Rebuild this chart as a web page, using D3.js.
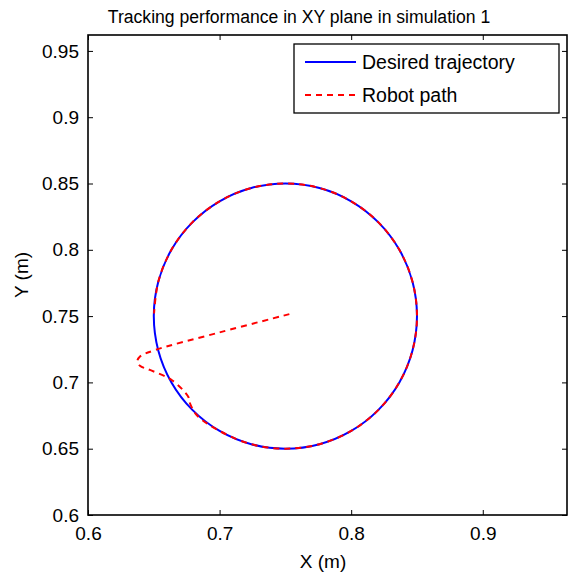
<!DOCTYPE html>
<html>
<head>
<meta charset="utf-8">
<script src="https://cdn.jsdelivr.net/npm/d3@7"></script>
<style>
  body { margin: 0; background: #fff; }
  text { font-family: "Liberation Sans", Arial, sans-serif; fill: #000; }
</style>
</head>
<body>
<svg id="chart" width="570" height="577"></svg>
<script>
// desired trajectory: circle, read every 15 deg
const desiredX = [0.85, 0.8466, 0.8366, 0.8207, 0.80, 0.7759, 0.75, 0.7241, 0.70, 0.6793, 0.6634, 0.6534,
                  0.65, 0.6534, 0.6634, 0.6793, 0.70, 0.7241, 0.75, 0.7759, 0.80, 0.8207, 0.8366, 0.8466];
const desiredY = [0.75, 0.7759, 0.80, 0.8207, 0.8366, 0.8466, 0.85, 0.8466, 0.8366, 0.8207, 0.80, 0.7759,
                  0.75, 0.7241, 0.70, 0.6793, 0.6634, 0.6534, 0.65, 0.6534, 0.6634, 0.6793, 0.70, 0.7241];

// robot path: transient from centre, then follows the circle
const robotX = [0.753, 0.70, 0.651, 0.6395, 0.6375, 0.6395, 0.647, 0.6636, 0.6762, 0.677, 0.6826,
                0.70, 0.7241, 0.75, 0.7759, 0.80, 0.8207, 0.8366, 0.8466, 0.85, 0.8466, 0.8366, 0.8207,
                0.80, 0.7759, 0.75, 0.7241, 0.70, 0.6793, 0.6634, 0.6534, 0.6502];
const robotY = [0.7515, 0.7377, 0.7244, 0.7195, 0.716, 0.7125, 0.7094, 0.7018, 0.6892, 0.6855, 0.6754,
                0.6634, 0.6534, 0.65, 0.6534, 0.6634, 0.6793, 0.70, 0.7241, 0.75, 0.7759, 0.80, 0.8207,
                0.8366, 0.8466, 0.85, 0.8466, 0.8366, 0.8207, 0.80, 0.7759, 0.752];

const xTicks = [0.6, 0.7, 0.8, 0.9];
const yTicks = [0.6, 0.65, 0.7, 0.75, 0.8, 0.85, 0.9, 0.95];
const seriesNames = ["Desired trajectory", "Robot path"];

const svg = d3.select('#chart');
const plotL = 88, plotR = 567, plotT = 35, plotB = 515;

const x = d3.scaleLinear().domain([0.6, 0.964]).range([plotL, plotR]);
const y = d3.scaleLinear().domain([0.6, 0.962]).range([plotB, plotT]);

svg.append('text')
    .attr('x', 299)
    .attr('y', 23)
    .attr('text-anchor', 'middle')
    .style('font-size', '17.6px')
    .text('Tracking performance in XY plane in simulation 1');

// axes, MATLAB style: ticks inward on all sides
const tickLen = 5;
const xAxis = d3.axisBottom(x).tickValues(xTicks).tickSizeInner(-tickLen).tickSizeOuter(0).tickPadding(12)
    .tickFormat(d3.format('.1f'));
const yAxis = d3.axisLeft(y).tickValues(yTicks).tickSizeInner(-tickLen).tickSizeOuter(0).tickPadding(9)
    .tickFormat(d => d3.format('.2~f')(d));

svg.append('g').attr('transform', `translate(0,${plotB})`).call(xAxis);
svg.append('g').attr('transform', `translate(${plotL},0)`).call(yAxis);
svg.append('g').attr('transform', `translate(0,${plotT})`)
    .call(d3.axisTop(x).tickValues(xTicks).tickSizeInner(-tickLen).tickSizeOuter(0).tickFormat(''));
svg.append('g').attr('transform', `translate(${plotR},0)`)
    .call(d3.axisRight(y).tickValues(yTicks).tickSizeInner(-tickLen).tickSizeOuter(0).tickFormat(''));

svg.selectAll('.domain').remove();
svg.selectAll('.tick line').attr('stroke', '#000').attr('stroke-width', 1);
svg.selectAll('.tick text').style('font-size', '19px').style('font-family', '"Liberation Sans", Arial, sans-serif');

svg.append('rect')
    .attr('x', plotL).attr('y', plotT)
    .attr('width', plotR - plotL).attr('height', plotB - plotT)
    .attr('fill', 'none').attr('stroke', '#000').attr('stroke-width', 1.6);

svg.append('text')
    .attr('x', 323)
    .attr('y', 568)
    .attr('text-anchor', 'middle')
    .style('font-size', '19px')
    .text('X (m)');

svg.append('text')
    .attr('transform', `translate(28, 275) rotate(-90)`)
    .attr('text-anchor', 'middle')
    .style('font-size', '19px')
    .text('Y (m)');

// lines
const desired = desiredX.map((d, i) => [d, desiredY[i]]);
const robot = robotX.map((d, i) => [d, robotY[i]]);

svg.append('path')
    .attr('d', d3.line().x(d => x(d[0])).y(d => y(d[1])).curve(d3.curveCatmullRomClosed)(desired))
    .attr('fill', 'none')
    .attr('stroke', '#0000ff')
    .attr('stroke-width', 2);

svg.append('path')
    .attr('d', d3.line().x(d => x(d[0])).y(d => y(d[1])).curve(d3.curveCatmullRom.alpha(0.5))(robot))
    .attr('fill', 'none')
    .attr('stroke', '#ff0000')
    .attr('stroke-width', 2)
    .attr('stroke-dasharray', '6,5');

// legend
const legend = svg.append('g');
legend.append('rect')
    .attr('x', 294).attr('y', 44)
    .attr('width', 265).attr('height', 69)
    .attr('fill', '#fff').attr('stroke', '#000').attr('stroke-width', 1.3);

const legendStyles = [{ color: '#0000ff', dash: null }, { color: '#ff0000', dash: '6,5' }];
seriesNames.forEach((name, i) => {
    const ly = 62 + i * 33;
    legend.append('line')
        .attr('x1', 305).attr('x2', 356)
        .attr('y1', ly).attr('y2', ly)
        .attr('stroke', legendStyles[i].color)
        .attr('stroke-width', 2)
        .attr('stroke-dasharray', legendStyles[i].dash);
    legend.append('text')
        .attr('x', 362).attr('y', ly + 7)
        .style('font-size', '19.5px')
        .text(name);
});
</script>
</body>
</html>
